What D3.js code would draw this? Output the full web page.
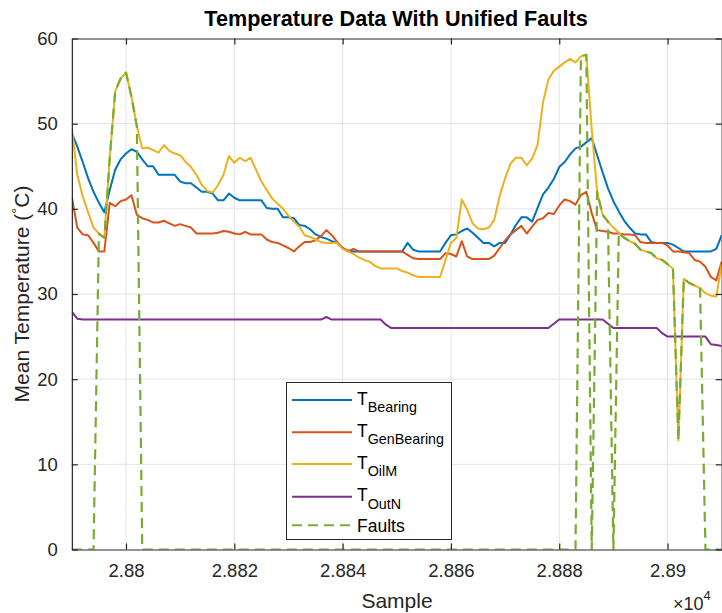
<!DOCTYPE html>
<html>
<head>
<meta charset="utf-8">
<script src="https://cdn.jsdelivr.net/npm/d3@7"></script>
<style>
  html, body { margin: 0; padding: 0; background: #fff; }
  svg { display: block; font-family: "Liberation Sans", Arial, Helvetica, sans-serif; }
</style>
</head>
<body>
<svg id="chart" width="722" height="613"></svg>
<script>
// ---------- data (one value per sample, samples 28790 ... 28910) ----------
const startSample = 28790;
const endSample = 28910;

const tBearing = [
  48.9, 47.3, 45.5, 43.6, 42.0, 40.7, 39.6, 42.2, 44.6, 45.8,
  46.5, 47.0, 46.7, 45.8, 45.0, 45.0, 44.0, 44.0, 44.0, 44.0,
  43.2, 43.0, 43.0, 42.5, 42.0, 42.0, 41.8, 41.0, 41.0, 41.8,
  41.3, 41.0, 41.0, 41.0, 41.0, 41.0, 40.1, 40.0, 40.0, 39.0,
  39.0, 38.9, 38.1, 38.0, 37.6, 37.0, 36.7, 36.5, 36.2, 36.0,
  35.4, 35.1, 35.0, 35.0, 35.0, 35.0, 35.0, 35.0, 35.0, 35.0,
  35.0, 35.0, 36.0, 35.2, 35.0, 35.0, 35.0, 35.0, 35.0, 36.0,
  36.9, 37.0, 37.4, 37.7, 37.2, 36.6, 36.0, 36.0, 35.6, 36.0,
  36.0, 37.0, 38.1, 39.0, 39.0, 38.5, 40.1, 41.7, 42.5, 43.5,
  44.9, 45.5, 46.4, 47.1, 47.3, 47.8, 48.3, 46.3, 44.3, 42.4,
  40.9, 39.7, 38.6, 37.8, 37.1, 37.0, 37.0, 36.1, 36.0, 36.0,
  36.0, 35.8, 35.4, 35.0, 35.0, 35.0, 35.0, 35.0, 35.0, 35.3,
  36.9
];

const tGenBearing = [
  41.4, 37.8, 37.0, 36.9, 36.0, 35.0, 35.0, 40.7, 40.3, 40.9,
  41.1, 41.6, 39.3, 38.9, 38.7, 38.4, 38.4, 38.6, 38.3, 38.0,
  38.2, 38.0, 37.8, 37.1, 37.1, 37.1, 37.1, 37.2, 37.4, 37.3,
  37.1, 37.0, 37.3, 37.0, 37.0, 37.0, 36.4, 36.1, 36.0, 35.7,
  35.4, 35.0, 35.6, 36.1, 36.1, 36.3, 36.8, 37.5, 36.9, 36.1,
  35.4, 35.0, 35.3, 35.0, 35.0, 35.0, 35.0, 35.0, 35.0, 35.0,
  35.0, 35.0, 34.6, 34.2, 34.1, 34.1, 34.1, 34.1, 34.1, 34.8,
  34.7, 34.4, 36.2, 34.4, 34.1, 34.1, 34.1, 34.1, 34.5, 35.4,
  36.3, 37.0, 37.5, 38.0, 37.1, 37.9, 38.7, 38.9, 39.5, 39.4,
  40.4, 41.1, 40.9, 40.5, 41.6, 42.0, 39.5, 37.5, 37.4, 37.3,
  37.1, 37.1, 37.0, 37.0, 36.9, 36.1, 36.0, 36.0, 36.0, 36.0,
  35.7, 35.0, 35.0, 34.9, 34.8, 34.0, 33.8, 33.2, 32.0, 31.6,
  33.8
];

const tOilM = [
  49.5, 44.0, 41.5, 39.6, 37.8, 37.1, 36.6, 46.0, 53.8, 55.3,
  56.0, 53.2, 49.7, 47.1, 47.2, 46.9, 46.6, 47.5, 46.8, 46.5,
  46.3, 45.5, 44.9, 44.0, 42.8, 42.1, 41.9, 42.8, 44.0, 46.2,
  45.4, 46.0, 45.6, 46.0, 44.6, 43.2, 42.2, 41.2, 40.6, 40.0,
  39.2, 38.5, 37.9, 36.9, 36.7, 36.4, 36.1, 36.0, 36.0, 36.0,
  35.3, 35.0, 34.7, 34.3, 34.0, 33.8, 33.3, 33.0, 33.0, 33.0,
  33.0, 32.7, 32.5, 32.2, 32.0, 32.0, 32.0, 32.0, 32.0, 34.0,
  36.0, 36.6, 41.1, 39.9, 38.3, 37.7, 37.6, 37.8, 38.7, 41.5,
  43.6, 45.3, 46.0, 46.0, 45.1, 45.9, 47.5, 52.5, 55.2, 56.2,
  56.7, 57.2, 57.6, 57.2, 57.9, 58.1, 49.3, 42.0, 39.3, 38.5,
  37.8, 37.2, 36.6, 36.2, 35.9, 35.2, 35.0, 34.8, 34.2, 34.0,
  33.5, 33.0, 12.8, 31.8, 31.3, 31.0, 30.7, 30.1, 29.8, 29.7,
  33.5
];

const tOutN = [
  27.9, 27.1, 27.0, 27.0, 27.0, 27.0, 27.0, 27.0, 27.0, 27.0,
  27.0, 27.0, 27.0, 27.0, 27.0, 27.0, 27.0, 27.0, 27.0, 27.0,
  27.0, 27.0, 27.0, 27.0, 27.0, 27.0, 27.0, 27.0, 27.0, 27.0,
  27.0, 27.0, 27.0, 27.0, 27.0, 27.0, 27.0, 27.0, 27.0, 27.0,
  27.0, 27.0, 27.0, 27.0, 27.0, 27.0, 27.0, 27.3, 27.0, 27.0,
  27.0, 27.0, 27.0, 27.0, 27.0, 27.0, 27.0, 27.0, 26.4, 26.0,
  26.0, 26.0, 26.0, 26.0, 26.0, 26.0, 26.0, 26.0, 26.0, 26.0,
  26.0, 26.0, 26.0, 26.0, 26.0, 26.0, 26.0, 26.0, 26.0, 26.0,
  26.0, 26.0, 26.0, 26.0, 26.0, 26.0, 26.0, 26.0, 26.0, 26.5,
  27.0, 27.0, 27.0, 27.0, 27.0, 27.0, 27.0, 27.0, 27.0, 26.5,
  26.0, 26.0, 26.0, 26.0, 26.0, 26.0, 26.0, 26.0, 26.0, 25.4,
  25.0, 25.0, 25.0, 25.0, 25.0, 25.0, 25.0, 25.0, 24.1, 24.0,
  23.9
];

const faults = [
  0, 0, 0, 0, 0, 37.1, 36.6, 46.0, 53.8, 55.3,
  56.0, 53.2, 49.7, 0, 0, 0, 0, 0, 0, 0,
  0, 0, 0, 0, 0, 0, 0, 0, 0, 0,
  0, 0, 0, 0, 0, 0, 0, 0, 0, 0,
  0, 0, 0, 0, 0, 0, 0, 0, 0, 0,
  0, 0, 0, 0, 0, 0, 0, 0, 0, 0,
  0, 0, 0, 0, 0, 0, 0, 0, 0, 0,
  0, 0, 0, 0, 0, 0, 0, 0, 0, 0,
  0, 0, 0, 0, 0, 0, 0, 0, 0, 0,
  0, 0, 0, 0, 57.9, 58.1, 0, 42.0, 39.3, 38.5,
  0, 37.2, 36.6, 36.2, 35.9, 35.2, 35.0, 34.8, 34.2, 34.0,
  33.5, 33.0, 12.8, 31.8, 31.3, 31.0, 30.7, 0, 0, 0,
  0
];

const seriesNames = ["Bearing", "GenBearing", "OilM", "OutN", "Faults"];
const seriesColors = ["#0072BD", "#D95319", "#EDB120", "#7E2F8E", "#77AC30"];

const xTickValues = [28800, 28820, 28840, 28860, 28880, 28900];
const xTickLabels = ["2.88", "2.882", "2.884", "2.886", "2.888", "2.89"];
const yTickValues = [0, 10, 20, 30, 40, 50, 60];
const yTickLabels = ["0", "10", "20", "30", "40", "50", "60"];

const titleText = "Temperature Data With Unified Faults";
const xLabelText = "Sample";

// ---------- layout ----------
(function draw() {
const svg = d3.select("#chart");
const pL = 71.85, pR = 721.7, pT = 38.5, pB = 549.5;
const axisColor = "#262626";
const gridColor = "#e3e3e3";
const FONT = '"Liberation Sans", Arial, Helvetica, sans-serif';

const x = d3.scaleLinear().domain([startSample, endSample]).range([pL, pR]);
const y = d3.scaleLinear().domain([0, 60]).range([pB, pT]);

const samples = d3.range(startSample, endSample + 1);

svg.append("rect").attr("x", 0).attr("y", 0).attr("width", 722).attr("height", 613).attr("fill", "#fff");

const grid = svg.append("g");
grid.selectAll("line.gx").data(xTickValues).join("line")
  .attr("x1", d => x(d)).attr("x2", d => x(d))
  .attr("y1", pT).attr("y2", pB)
  .attr("stroke", gridColor).attr("stroke-width", 1);
grid.selectAll("line.gy").data(yTickValues.slice(1, -1)).join("line")
  .attr("x1", pL).attr("x2", pR)
  .attr("y1", d => y(d)).attr("y2", d => y(d))
  .attr("stroke", gridColor).attr("stroke-width", 1);

svg.append("clipPath").attr("id", "plotclip").append("rect")
  .attr("x", pL).attr("y", pT - 2).attr("width", pR - pL).attr("height", pB - pT + 2);

const plot = svg.append("g").attr("clip-path", "url(#plotclip)");
const allSeries = [tBearing, tGenBearing, tOilM, tOutN, faults];

allSeries.forEach((vals, k) => {
  const line = d3.line()
    .x((d, i) => x(samples[i]))
    .y(d => y(d));
  const p = plot.append("path")
    .datum(vals)
    .attr("d", line)
    .attr("fill", "none")
    .attr("stroke", seriesColors[k])
    .attr("stroke-width", 2)
    .attr("stroke-linejoin", "round");
  if (k === 4) p.attr("stroke-dasharray", "10,6").attr("stroke-width", 2.2);
});

const xAxisB = d3.axisBottom(x).tickValues(xTickValues).tickFormat((d, i) => xTickLabels[i]).tickSizeInner(-6).tickSizeOuter(0).tickPadding(14);
const xAxisT = d3.axisTop(x).tickValues(xTickValues).tickFormat("").tickSizeInner(-6).tickSizeOuter(0);
const yAxisL = d3.axisLeft(y).tickValues(yTickValues).tickFormat((d, i) => yTickLabels[i]).tickSizeInner(-6).tickSizeOuter(0).tickPadding(14);
const yAxisR = d3.axisRight(y).tickValues(yTickValues).tickFormat("").tickSizeInner(-6).tickSizeOuter(0);

function styleAxis(g) {
  g.select(".domain").attr("stroke", axisColor).attr("stroke-width", 1.2);
  g.selectAll(".tick line").attr("stroke", axisColor).attr("stroke-width", 1.2);
  g.selectAll(".tick text").attr("fill", axisColor).style("font-family", FONT).style("font-size", "18.5px");
}
svg.append("g").attr("transform", `translate(0,${pB})`).call(xAxisB).call(styleAxis);
svg.append("g").attr("transform", `translate(0,${pT})`).call(xAxisT).call(styleAxis);
svg.append("g").attr("transform", `translate(${pL},0)`).call(yAxisL).call(styleAxis);
svg.append("g").attr("transform", `translate(${pR},0)`).call(yAxisR).call(styleAxis);

const expo = svg.append("text").attr("x", 673).attr("y", 610).attr("fill", axisColor)
  .style("font-family", FONT).style("font-size", "18px");
expo.append("tspan").text("\u00d710");
expo.append("tspan").attr("dy", -10).style("font-size", "13px").text("4");

svg.append("text").attr("x", 396).attr("y", 26).attr("text-anchor", "middle")
  .attr("fill", "#000").style("font-family", FONT).style("font-size", "21.6px").style("font-weight", "bold")
  .text(titleText);

svg.append("text").attr("x", 397).attr("y", 608).attr("text-anchor", "middle")
  .attr("fill", axisColor).style("font-family", FONT).style("font-size", "21px").text(xLabelText);

const yl = svg.append("text").attr("transform", "translate(29,294) rotate(-90)").attr("text-anchor", "middle")
  .attr("fill", axisColor).style("font-family", FONT).style("font-size", "21px");
yl.append("tspan").text("Mean Temperature (");
yl.append("tspan").attr("dy", -7).style("font-size", "15px").text("\u00b0");
yl.append("tspan").attr("dy", 7).text("C)");

const lg = svg.append("g");
lg.append("rect").attr("x", 286.5).attr("y", 382.5).attr("width", 165).attr("height", 157)
  .attr("fill", "#fff").attr("stroke", axisColor).attr("stroke-width", 1);
const legendY = [400, 432.3, 464, 496.7, 525.3];
seriesNames.forEach((name, k) => {
  const ly = legendY[k];
  const ln = lg.append("line").attr("x1", 292).attr("x2", 352).attr("y1", ly).attr("y2", ly)
    .attr("stroke", seriesColors[k]).attr("stroke-width", 2);
  if (k === 4) {
    ln.attr("stroke-dasharray", "10,6");
    lg.append("text").attr("x", 357).attr("y", ly + 6.3).attr("fill", "#000")
      .style("font-family", FONT).style("font-size", "17.5px").text(name);
  } else {
    const t = lg.append("text").attr("x", 357).attr("y", ly + 4.5).attr("fill", "#000")
      .style("font-family", FONT).style("font-size", "17.5px");
    t.append("tspan").text("T");
    t.append("tspan").attr("dy", 7.5).style("font-size", "14.3px").text(name);
  }
});
})();
</script>
</body>
</html>
